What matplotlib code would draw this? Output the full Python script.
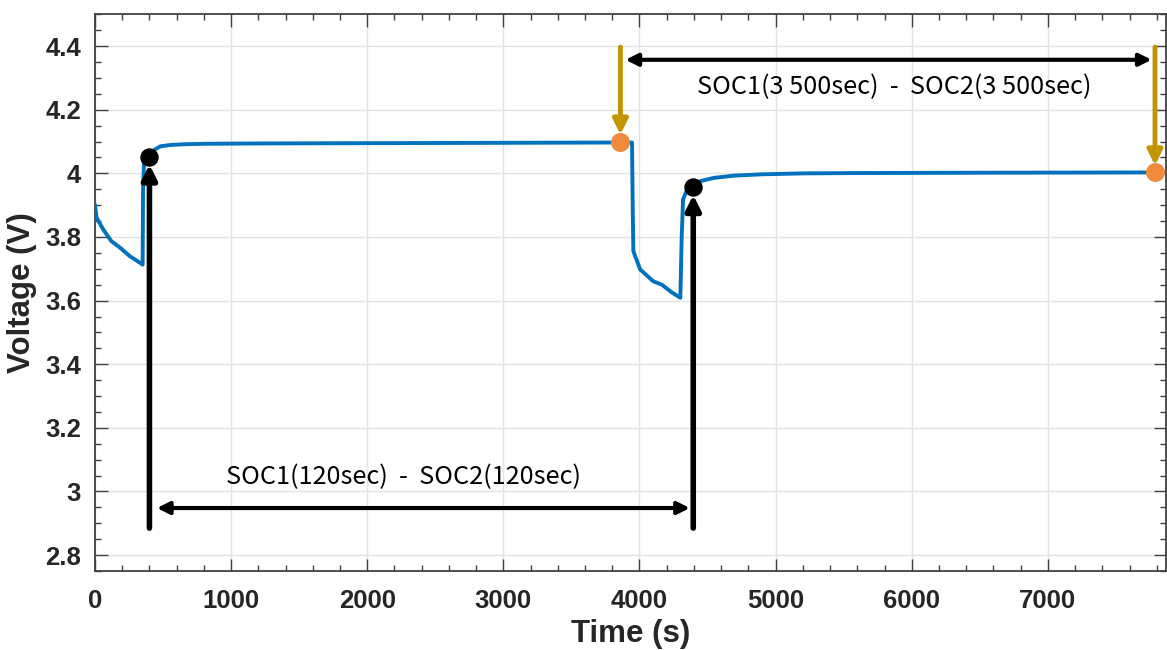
"""
Cell voltage during two rest periods, with the SOC comparison points marked.
"""

import numpy as np
import matplotlib.pyplot as plt
from matplotlib.ticker import MultipleLocator, FuncFormatter

# measured voltage trace (time in s, voltage in V)
time_s = [0, 12, 60, 120, 185, 255, 330, 350, 353, 360, 380, 400, 440, 480,
          550, 625, 800, 1200, 2000, 3000, 3800, 3945, 3950, 3955, 4005, 4100,
          4165, 4240, 4300, 4310, 4320, 4345, 4395, 4450, 4550, 4700, 4900,
          5200, 5600, 6500, 7870]
voltage = [3.899, 3.861, 3.824, 3.787, 3.766, 3.740, 3.719, 3.713, 3.95, 4.03,
           4.048, 4.058, 4.075, 4.085, 4.089, 4.091, 4.093, 4.094, 4.095, 4.096,
           4.097, 4.097, 3.90, 3.755, 3.698, 3.661, 3.650, 3.625, 3.609, 3.80,
           3.918, 3.944, 3.957, 3.976, 3.986, 3.993, 3.997, 4.0, 4.001, 4.002,
           4.003]

# sample points after 120 s and 3500 s of rest
pts_120_t = [400, 4395]
pts_120_v = [4.053, 3.957]
pts_3500_t = [3860, 7787]
pts_3500_v = [4.100, 4.003]

label_120 = "SOC1(120sec)  -  SOC2(120sec)"
label_3500 = "SOC1(3 500sec)  -  SOC2(3 500sec)"

fig = plt.figure(figsize=(11.67, 6.5), dpi=100)
ax = fig.add_axes([0.0814, 0.1215, 0.918, 0.8565])

ax.plot(time_s, voltage, color="#0072BD", lw=2.8, zorder=3)

ax.set_xlim(0, 7870)
ax.set_ylim(2.75, 4.5)
ax.xaxis.set_major_locator(MultipleLocator(1000))
ax.xaxis.set_minor_locator(MultipleLocator(200))
ax.yaxis.set_major_locator(MultipleLocator(0.2))
ax.yaxis.set_minor_locator(MultipleLocator(0.05))
ax.yaxis.set_major_formatter(FuncFormatter(lambda v, _: f"{v:g}"))

ax.grid(True, which="major", color="#e3e3e3", lw=1.0, zorder=0)
ax.tick_params(which="both", direction="in", top=True, right=True,
               color="#404040", width=1.0)
ax.tick_params(which="major", length=9, labelsize=18.5, labelcolor="#262626")
ax.tick_params(axis="x", which="major", pad=13)
ax.tick_params(axis="y", which="major", pad=10)
ax.tick_params(which="minor", length=4.5)
for lbl in ax.get_xticklabels() + ax.get_yticklabels():
    lbl.set_fontweight("bold")
    lbl.set_family("Liberation Sans")
for sp in ax.spines.values():
    sp.set_color("#404040")
    sp.set_linewidth(1.3)

ax.set_xlabel("Time (s)", fontsize=22.5, fontweight="bold", family="Liberation Sans",
              color="#262626", labelpad=4)
ax.set_ylabel("Voltage (V)", fontsize=22.5, fontweight="bold", family="Liberation Sans",
              color="#262626", labelpad=6)

# vertical arrows up to the 120 s points
for t, v in zip(pts_120_t, pts_120_v):
    ax.annotate("", xy=(t, v - 0.025), xytext=(t, 2.885),
                arrowprops=dict(arrowstyle="-|>", lw=4, color="k",
                                mutation_scale=22, shrinkA=0, shrinkB=0),
                zorder=4)

# gold arrows down to the 3500 s points
for t, v in zip(pts_3500_t, pts_3500_v):
    ax.annotate("", xy=(t, v + 0.022), xytext=(t, 4.397),
                arrowprops=dict(arrowstyle="-|>", lw=3.5, color="#C39500",
                                mutation_scale=22, shrinkA=0, shrinkB=0),
                zorder=4, annotation_clip=False)

ax.scatter(pts_120_t, pts_120_v, s=150, color="k", zorder=5)
ax.scatter(pts_3500_t, pts_3500_v, s=160, color="#F08A3C", zorder=5,
           clip_on=False)

# span arrows and their labels
ax.annotate("", xy=(455, 2.948), xytext=(4370, 2.948),
            arrowprops=dict(arrowstyle="<|-|>", lw=3, color="k",
                            mutation_scale=18, shrinkA=0, shrinkB=0))
ax.annotate("", xy=(3897, 4.357), xytext=(7762, 4.357),
            arrowprops=dict(arrowstyle="<|-|>", lw=3, color="k",
                            mutation_scale=18, shrinkA=0, shrinkB=0))
ax.text(2265, 3.045, label_120, ha="center", va="center", fontsize=18.2,
        fontweight="medium", family=["Noto Sans CJK KR", "DejaVu Sans"], color="k")
ax.text(5870, 4.27, label_3500, ha="center", va="center", fontsize=18.2,
        fontweight="medium", family=["Noto Sans CJK KR", "DejaVu Sans"], color="k")

fig.savefig("out.png")
plt.close(fig)
